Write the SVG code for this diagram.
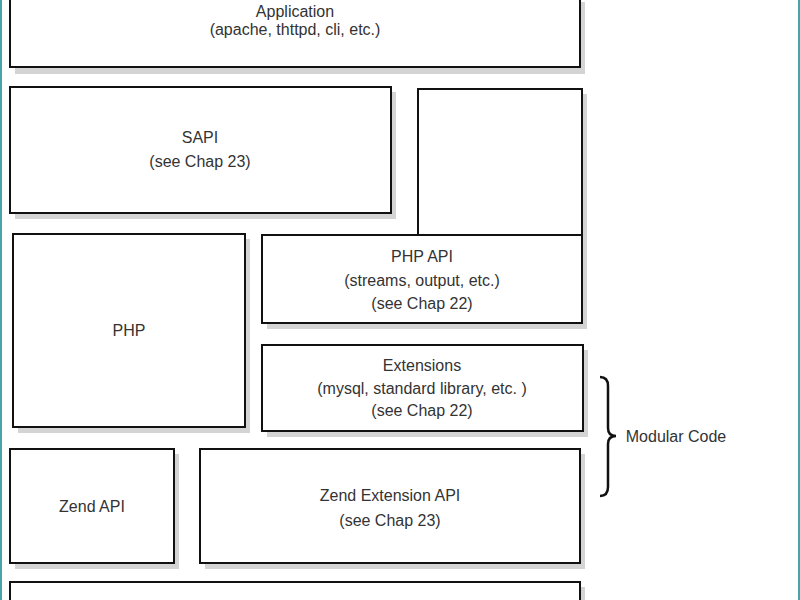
<svg xmlns="http://www.w3.org/2000/svg" width="800" height="600" viewBox="0 0 800 600">
<defs><style>
.b{fill:#fff;stroke:#111;stroke-width:2}
.s{fill:#d4d4d4}
text{font-family:"Liberation Sans",Arial,sans-serif;font-size:16px;fill:#333;text-anchor:middle}
</style></defs>
<rect x="0" y="0" width="800" height="600" fill="#fff"/>
<line x1="1" y1="0" x2="1" y2="600" stroke="#4aa3a8" stroke-width="2"/>
<line x1="799" y1="0" x2="799" y2="600" stroke="#4aa3a8" stroke-width="2"/>
<g id="application"><rect class="s" x="15" y="2" width="570" height="72"/><rect class="b" x="10" y="-3" width="570" height="70"/><text x="295" y="17">Application</text><text x="295" y="35">(apache, thttpd, cli, etc.)</text></g>
<g id="sapi"><rect class="s" x="15" y="92" width="381" height="127"/><rect class="b" x="10" y="87" width="381" height="126"/><text x="200" y="143">SAPI</text><text x="200" y="167">(see Chap 23)</text></g>
<g id="right-box"><rect class="s" x="423" y="94" width="164" height="146"/><rect class="b" x="418" y="89" width="164" height="146"/></g>
<g id="php"><rect class="s" x="18" y="239" width="232" height="194"/><rect class="b" x="13" y="234" width="232" height="193"/><text x="129" y="336">PHP</text></g>
<g id="php-api"><rect class="s" x="267" y="240" width="320" height="89"/><rect class="b" x="262" y="235" width="320" height="88"/><text x="422" y="262">PHP API</text><text x="422" y="286">(streams, output, etc.)</text><text x="422" y="309">(see Chap 22)</text></g>
<g id="extensions"><rect class="s" x="267" y="350" width="321" height="87"/><rect class="b" x="262" y="345" width="321" height="86"/><text x="422" y="371">Extensions</text><text x="422" y="394">(mysql, standard library, etc. )</text><text x="422" y="416">(see Chap 22)</text></g>
<g id="zend-api"><rect class="s" x="15" y="454" width="164" height="115"/><rect class="b" x="10" y="449" width="164" height="114"/><text x="92" y="512">Zend API</text></g>
<g id="zend-ext-api"><rect class="s" x="205" y="454" width="380" height="115"/><rect class="b" x="200" y="449" width="380" height="114"/><text x="390" y="501">Zend Extension API</text><text x="390" y="526">(see Chap 23)</text></g>
<g id="bottom"><rect class="s" x="15" y="587" width="570" height="30"/><rect class="b" x="10" y="582" width="570" height="30"/></g>
<g id="connectors"><path d="M600,377 Q608,377 608,386 L608,428 Q608,436 616,436 Q608,436 608,444 L608,487 Q608,496 600,496" fill="none" stroke="#111" stroke-width="2.5"/></g>
<g id="label"><text x="676" y="442">Modular Code</text></g>
</svg>
